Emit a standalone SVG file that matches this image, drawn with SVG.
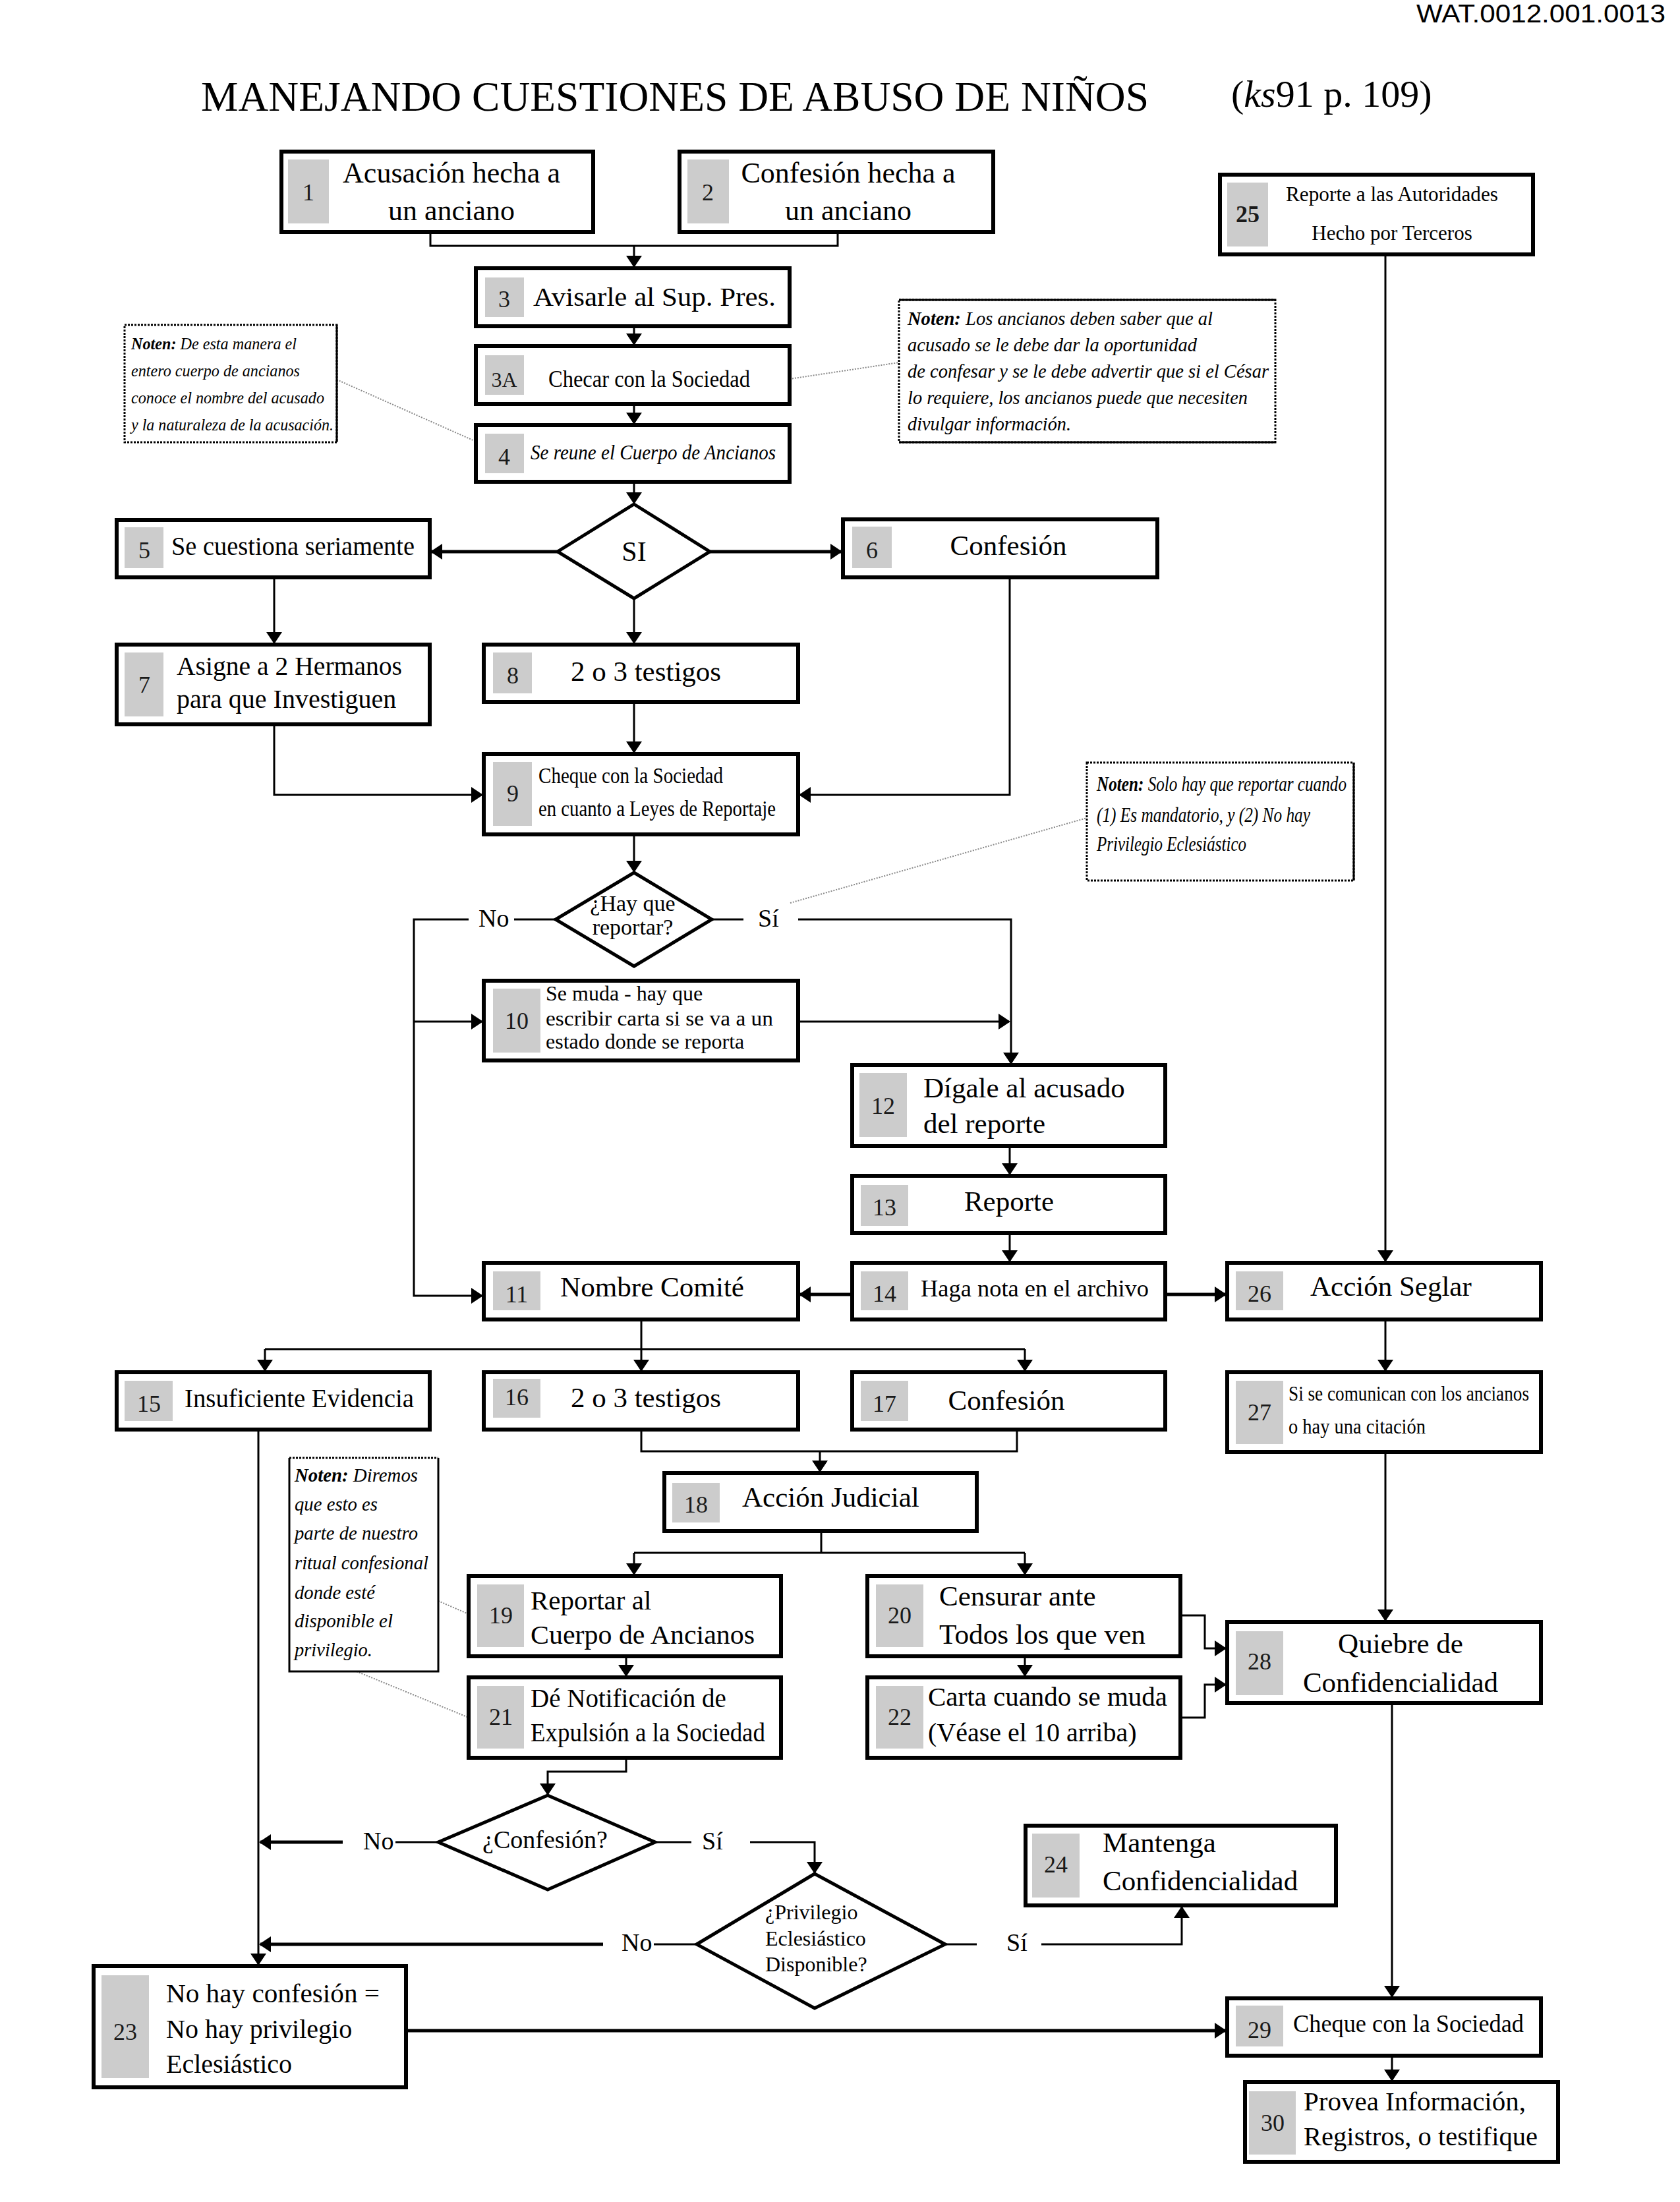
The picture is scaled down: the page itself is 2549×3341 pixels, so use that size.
<svg xmlns="http://www.w3.org/2000/svg" width="2549" height="3341" viewBox="0 0 2549 3341">
<style>
.box{fill:#fff;stroke:#000;stroke-width:6}
.g{fill:#cccccc}
.num{font-family:"Liberation Serif","Times New Roman",serif;font-size:36px;fill:#1a1a1a;text-anchor:middle}
.t{font-family:"Liberation Serif","Times New Roman",serif;fill:#000}
.m{text-anchor:middle}
.i{font-style:italic}
.nb{fill:#fff;stroke:#000;stroke-width:3;stroke-dasharray:3 2}
.sol{fill:none;stroke:#000;stroke-width:3}
.dot{fill:none;stroke:#888;stroke-width:2;stroke-dasharray:2 2}
.c{fill:none;stroke:#000;stroke-width:3}
.k{stroke-width:5}
.a{marker-end:url(#ah)}
.dm{fill:#fff;stroke:#000;stroke-width:5}
.lbl{font-family:"Liberation Serif","Times New Roman",serif;font-size:38px;fill:#000}
</style>
<defs>
<marker id="ah" viewBox="0 0 18 24" refX="16" refY="12" markerWidth="18" markerHeight="24" markerUnits="userSpaceOnUse" orient="auto"><path d="M0,0 L18,12 L0,24 z" fill="#000"/></marker>
</defs>
<rect x="0" y="0" width="2549" height="3341" fill="#fff"/>

<g id="header">
<text x="2527" y="34" text-anchor="end" font-family="Liberation Sans, Arial, sans-serif" font-size="38" textLength="378" lengthAdjust="spacingAndGlyphs">WAT.0012.001.0013</text>
<text class="t" x="305" y="168" font-size="63" textLength="1438" lengthAdjust="spacingAndGlyphs">MANEJANDO CUESTIONES DE ABUSO DE NIÑOS</text>
<text class="t" x="1868" y="162" font-size="58" fill="#222">(<tspan font-style="italic">ks</tspan>91 p. 109)</text>
</g>

<g id="connectors">
<path class="c" stroke-width="4" d="M653,352 V373 H1271 V352"/>
<path class="c a" d="M962,373 V404"/>
<path class="c a" d="M962,495 V522"/>
<path class="c a" d="M962,613 V642"/>
<path class="c a" d="M962,731 V763"/>
<path class="c k a" d="M846,837 H655"/>
<path class="c k a" d="M1077,837 H1276"/>
<path class="c a" d="M962,908 V975"/>
<path class="c a" d="M416,876 V975"/>
<path class="c a" d="M416,1099 V1206 H731"/>
<path class="c a" d="M962,1065 V1141"/>
<path class="c a" d="M1532,876 V1206 H1214"/>
<path class="c a" d="M962,1266 V1322"/>
<path class="c" d="M843,1395 H780"/>
<path class="c a" d="M711,1395 H628 V1966 H731"/>
<path class="c a" d="M628,1550 H731"/>
<path class="c" d="M1080,1395 H1128"/>
<path class="c a" d="M1211,1395 H1534 V1613"/>
<path class="c a" d="M1211,1550 H1531"/>
<path class="c a" d="M1532,1739 V1781"/>
<path class="c a" d="M1532,1871 V1913"/>
<path class="c k a" d="M1768,1964 H1859"/>
<path class="c k a" d="M1293,1964 H1214"/>
<path class="c a" d="M2102,386 V1913"/>
<path class="c" d="M973,2002 V2047 M402,2047 H1555"/>
<path class="c a" d="M402,2047 V2079"/>
<path class="c a" d="M973,2047 V2079"/>
<path class="c a" d="M1555,2047 V2079"/>
<path class="c a" d="M2102,2002 V2079"/>
<path class="c" d="M973,2169 V2202 H1543 V2169"/>
<path class="c a" d="M1244,2202 V2232"/>
<path class="c" d="M1246,2323 V2356 M962,2356 H1555"/>
<path class="c a" d="M962,2356 V2388"/>
<path class="c a" d="M1555,2356 V2388"/>
<path class="c a" d="M950,2513 V2542"/>
<path class="c a" d="M1555,2513 V2542"/>
<path class="c a" d="M1791,2451 H1828 V2501 H1859"/>
<path class="c a" d="M1791,2606 H1828 V2556 H1859"/>
<path class="c a" d="M2102,2203 V2458"/>
<path class="c a" d="M2112,2584 V3029"/>
<path class="c a" d="M950,2667 V2688 H831 V2722"/>
<path class="c" d="M665,2795 H600"/>
<path class="c k a" d="M520,2795 H395"/>
<path class="c a" d="M392,2169 V2980"/>
<path class="c" d="M994,2795 H1049"/>
<path class="c a" d="M1138,2795 H1236 V2841"/>
<path class="c" d="M1057,2950 H992"/>
<path class="c k a" d="M915,2950 H395"/>
<path class="c" d="M1434,2950 H1482"/>
<path class="c a" d="M1580,2950 H1793 V2894"/>
<path class="c k a" d="M616,3081 H1859"/>
<path class="c a" d="M2112,3119 V3156"/>
<path class="dot" d="M511,576 L720,669"/>
<path class="dot" d="M1198,575 L1364,550"/>
<path class="dot" d="M1199,1370 L1649,1241"/>
<path class="dot" d="M665,2429 L711,2449"/>
<path class="dot" d="M541,2536 L711,2606"/>
</g>

<g id="labels">
<text class="lbl" x="726" y="1406">No</text>
<text class="lbl" x="1150" y="1406">Sí</text>
<text class="lbl" x="551" y="2806">No</text>
<text class="lbl" x="1065" y="2806">Sí</text>
<text class="lbl" x="943" y="2960">No</text>
<text class="lbl" x="1527" y="2960">Sí</text>
</g>

<g id="n1"><rect class="box" x="427" y="230" width="473" height="122"/><rect class="g" x="437" y="242" width="62" height="97"/><text class="num" x="468" y="304">1</text><text class="t m" x="685" y="277" font-size="44">Acusación hecha a</text><text class="t m" x="685" y="334" font-size="44">un anciano</text></g>
<g id="n2"><rect class="box" x="1031" y="230" width="476" height="122"/><rect class="g" x="1043" y="242" width="63" height="97"/><text class="num" x="1074" y="304">2</text><text class="t m" x="1287" y="277" font-size="44">Confesión hecha a</text><text class="t m" x="1287" y="334" font-size="44">un anciano</text></g>
<g id="n25"><rect class="box" x="1851" y="265" width="475" height="121"/><rect class="g" x="1862" y="277" width="62" height="97"/><text class="num" x="1893" y="337" font-weight="bold">25</text><text class="t m" x="2112" y="305" font-size="31" textLength="322" lengthAdjust="spacingAndGlyphs">Reporte a las Autoridades</text><text class="t m" x="2112" y="364" font-size="31">Hecho por Terceros</text></g>
<g id="n3"><rect class="box" x="722" y="407" width="476" height="88"/><rect class="g" x="736" y="421" width="59" height="60"/><text class="num" x="765" y="466">3</text><text class="t" x="809" y="464" font-size="40" textLength="368" lengthAdjust="spacingAndGlyphs">Avisarle al Sup. Pres.</text></g>
<g id="n3A"><rect class="box" x="722" y="525" width="476" height="88"/><rect class="g" x="736" y="539" width="59" height="60"/><text class="num" x="765" y="587" style="font-size:32px">3A</text><text class="t" x="832" y="587" font-size="36" textLength="306" lengthAdjust="spacingAndGlyphs">Checar con la Sociedad</text></g>
<g id="n4"><rect class="box" x="722" y="645" width="476" height="86"/><rect class="g" x="736" y="658" width="59" height="60"/><text class="num" x="765" y="705">4</text><text class="t i" x="805" y="697" font-size="32" textLength="372" lengthAdjust="spacingAndGlyphs">Se reune el Cuerpo de Ancianos</text></g>

<g id="noteA">
<rect class="nb" x="189" y="493" width="322" height="178"/><path class="sol" d="M511,493 V671"/>
<text class="t i" x="199" y="530" font-size="25" textLength="251" lengthAdjust="spacingAndGlyphs"><tspan font-weight="bold">Noten:</tspan> De esta manera el</text>
<text class="t i" x="199" y="571" font-size="25" textLength="256" lengthAdjust="spacingAndGlyphs">entero cuerpo de ancianos</text>
<text class="t i" x="199" y="612" font-size="25" textLength="293" lengthAdjust="spacingAndGlyphs">conoce el nombre del acusado</text>
<text class="t i" x="199" y="653" font-size="25" textLength="307" lengthAdjust="spacingAndGlyphs">y la naturaleza de la acusación.</text>
</g>
<g id="noteB">
<rect class="nb" x="1364" y="455" width="571" height="216"/><path class="sol" stroke-width="4" d="M1364,455 H1935 M1364,671 H1935"/>
<text class="t i" x="1377" y="493" font-size="29" textLength="463" lengthAdjust="spacingAndGlyphs"><tspan font-weight="bold">Noten:</tspan> Los ancianos deben saber que al</text>
<text class="t i" x="1377" y="533" font-size="29" textLength="439" lengthAdjust="spacingAndGlyphs">acusado se le debe dar la oportunidad</text>
<text class="t i" x="1377" y="573" font-size="29" textLength="548" lengthAdjust="spacingAndGlyphs">de confesar y se le debe advertir que si el César</text>
<text class="t i" x="1377" y="613" font-size="29" textLength="516" lengthAdjust="spacingAndGlyphs">lo requiere, los ancianos puede que necesiten</text>
<text class="t i" x="1377" y="653" font-size="29" textLength="248" lengthAdjust="spacingAndGlyphs">divulgar información.</text>
</g>

<g id="d1"><polygon class="dm" points="962,765 1077,837 962,908 846,837"/><text class="t m" x="962" y="851" font-size="42">SI</text></g>
<g id="n5"><rect class="box" x="177" y="789" width="475" height="87"/><rect class="g" x="189" y="800" width="59" height="62"/><text class="num" x="219" y="847">5</text><text class="t" x="260" y="842" font-size="39" textLength="369" lengthAdjust="spacingAndGlyphs">Se cuestiona seriamente</text></g>
<g id="n6"><rect class="box" x="1279" y="788" width="477" height="88"/><rect class="g" x="1293" y="799" width="60" height="63"/><text class="num" x="1323" y="847">6</text><text class="t m" x="1530" y="842" font-size="43">Confesión</text></g>
<g id="n7"><rect class="box" x="177" y="978" width="475" height="121"/><rect class="g" x="189" y="990" width="59" height="97"/><text class="num" x="219" y="1051">7</text><text class="t" x="268" y="1024" font-size="40" textLength="342" lengthAdjust="spacingAndGlyphs">Asigne a 2 Hermanos</text><text class="t" x="268" y="1074" font-size="40">para que Investiguen</text></g>
<g id="n8"><rect class="box" x="734" y="978" width="477" height="87"/><rect class="g" x="748" y="990" width="59" height="62"/><text class="num" x="778" y="1037">8</text><text class="t m" x="980" y="1033" font-size="43">2 o 3 testigos</text></g>
<g id="n9"><rect class="box" x="734" y="1144" width="477" height="122"/><rect class="g" x="748" y="1156" width="59" height="97"/><text class="num" x="778" y="1216">9</text><text class="t" x="817" y="1188" font-size="34" textLength="280" lengthAdjust="spacingAndGlyphs">Cheque con la Sociedad</text><text class="t" x="817" y="1238" font-size="34" textLength="360" lengthAdjust="spacingAndGlyphs">en cuanto a Leyes de Reportaje</text></g>

<g id="d2"><polygon class="dm" points="962,1324 1080,1395 962,1466 843,1395"/><text class="t m" x="960" y="1382" font-size="34">¿Hay que</text><text class="t m" x="960" y="1418" font-size="34">reportar?</text></g>
<g id="noteC">
<rect class="nb" x="1649" y="1157" width="405" height="179"/><path class="sol" d="M2054,1157 V1336"/>
<text class="t i" x="1664" y="1200" font-size="32" textLength="379" lengthAdjust="spacingAndGlyphs"><tspan font-weight="bold">Noten:</tspan> Solo hay que reportar cuando</text>
<text class="t i" x="1664" y="1247" font-size="32" textLength="324" lengthAdjust="spacingAndGlyphs">(1) Es mandatorio, y (2) No hay</text>
<text class="t i" x="1664" y="1291" font-size="32" textLength="227" lengthAdjust="spacingAndGlyphs">Privilegio Eclesiástico</text>
</g>
<g id="n10"><rect class="box" x="734" y="1488" width="477" height="121"/><rect class="g" x="748" y="1500" width="72" height="97"/><text class="num" x="784" y="1561">10</text><text class="t" x="828" y="1518" font-size="32">Se muda - hay que</text><text class="t" x="828" y="1556" font-size="32" textLength="345" lengthAdjust="spacingAndGlyphs">escribir carta si se va a un</text><text class="t" x="828" y="1591" font-size="32">estado donde se reporta</text></g>
<g id="n12"><rect class="box" x="1293" y="1616" width="475" height="123"/><rect class="g" x="1304" y="1628" width="72" height="97"/><text class="num" x="1340" y="1690">12</text><text class="t" x="1401" y="1665" font-size="43">Dígale al acusado</text><text class="t" x="1401" y="1719" font-size="43">del reporte</text></g>
<g id="n13"><rect class="box" x="1293" y="1784" width="475" height="87"/><rect class="g" x="1306" y="1798" width="72" height="62"/><text class="num" x="1342" y="1844">13</text><text class="t m" x="1531" y="1837" font-size="43">Reporte</text></g>
<g id="n14"><rect class="box" x="1293" y="1916" width="475" height="86"/><rect class="g" x="1306" y="1929" width="72" height="59"/><text class="num" x="1342" y="1975">14</text><text class="t" x="1397" y="1967" font-size="36" textLength="346" lengthAdjust="spacingAndGlyphs">Haga nota en el archivo</text></g>
<g id="n11"><rect class="box" x="734" y="1916" width="477" height="86"/><rect class="g" x="748" y="1929" width="72" height="59"/><text class="num" x="784" y="1976">11</text><text class="t" x="850" y="1967" font-size="43" textLength="279" lengthAdjust="spacingAndGlyphs">Nombre Comité</text></g>
<g id="n26"><rect class="box" x="1862" y="1916" width="476" height="86"/><rect class="g" x="1875" y="1929" width="72" height="59"/><text class="num" x="1911" y="1975">26</text><text class="t" x="1988" y="1966" font-size="43">Acción Seglar</text></g>
<g id="n15"><rect class="box" x="177" y="2082" width="475" height="87"/><rect class="g" x="189" y="2095" width="73" height="61"/><text class="num" x="226" y="2142">15</text><text class="t" x="280" y="2135" font-size="39" textLength="348" lengthAdjust="spacingAndGlyphs">Insuficiente Evidencia</text></g>
<g id="n16"><rect class="box" x="734" y="2082" width="477" height="87"/><rect class="g" x="748" y="2092" width="72" height="59"/><text class="num" x="784" y="2132">16</text><text class="t m" x="980" y="2135" font-size="43">2 o 3 testigos</text></g>
<g id="n17"><rect class="box" x="1293" y="2082" width="475" height="87"/><rect class="g" x="1306" y="2095" width="72" height="61"/><text class="num" x="1342" y="2142">17</text><text class="t m" x="1527" y="2139" font-size="43">Confesión</text></g>
<g id="n27"><rect class="box" x="1862" y="2082" width="476" height="121"/><rect class="g" x="1875" y="2095" width="72" height="96"/><text class="num" x="1911" y="2155">27</text><text class="t" x="1955" y="2125" font-size="31" textLength="365" lengthAdjust="spacingAndGlyphs">Si se comunican con los ancianos</text><text class="t" x="1955" y="2175" font-size="31" textLength="208" lengthAdjust="spacingAndGlyphs">o hay una citación</text></g>
<g id="noteD">
<path class="sol" d="M439,2212 V2536 H665 V2212"/><path class="nb" fill="none" d="M439,2212 H665"/>
<text class="t i" x="447" y="2248" font-size="30" textLength="187" lengthAdjust="spacingAndGlyphs"><tspan font-weight="bold">Noten:</tspan> Diremos</text>
<text class="t i" x="447" y="2292" font-size="30" textLength="126" lengthAdjust="spacingAndGlyphs">que esto es</text>
<text class="t i" x="447" y="2336" font-size="30" textLength="187" lengthAdjust="spacingAndGlyphs">parte de nuestro</text>
<text class="t i" x="447" y="2381" font-size="30" textLength="203" lengthAdjust="spacingAndGlyphs">ritual confesional</text>
<text class="t i" x="447" y="2426" font-size="30" textLength="122" lengthAdjust="spacingAndGlyphs">donde esté</text>
<text class="t i" x="447" y="2469" font-size="30" textLength="149" lengthAdjust="spacingAndGlyphs">disponible el</text>
<text class="t i" x="447" y="2513" font-size="30" textLength="118" lengthAdjust="spacingAndGlyphs">privilegio.</text>
</g>
<g id="n18"><rect class="box" x="1008" y="2235" width="474" height="88"/><rect class="g" x="1020" y="2250" width="72" height="60"/><text class="num" x="1056" y="2295">18</text><text class="t" x="1126" y="2286" font-size="43">Acción Judicial</text></g>
<g id="n19"><rect class="box" x="711" y="2391" width="474" height="122"/><rect class="g" x="724" y="2404" width="71" height="95"/><text class="num" x="760" y="2463">19</text><text class="t" x="805" y="2442" font-size="41">Reportar al</text><text class="t" x="805" y="2494" font-size="41" textLength="340" lengthAdjust="spacingAndGlyphs">Cuerpo de Ancianos</text></g>
<g id="n20"><rect class="box" x="1316" y="2391" width="475" height="122"/><rect class="g" x="1329" y="2404" width="72" height="95"/><text class="num" x="1365" y="2463">20</text><text class="t" x="1425" y="2436" font-size="43">Censurar ante</text><text class="t" x="1425" y="2494" font-size="43" textLength="313" lengthAdjust="spacingAndGlyphs">Todos los que ven</text></g>
<g id="n28"><rect class="box" x="1862" y="2461" width="476" height="123"/><rect class="g" x="1875" y="2475" width="72" height="97"/><text class="num" x="1911" y="2533">28</text><text class="t m" x="2125" y="2508" font-size="43">Quiebre de</text><text class="t m" x="2125" y="2567" font-size="43">Confidencialidad</text></g>
<g id="n21"><rect class="box" x="711" y="2545" width="474" height="122"/><rect class="g" x="724" y="2558" width="71" height="95"/><text class="num" x="760" y="2617">21</text><text class="t" x="805" y="2590" font-size="39">Dé Notificación de</text><text class="t" x="805" y="2642" font-size="39" textLength="356" lengthAdjust="spacingAndGlyphs">Expulsión a la Sociedad</text></g>
<g id="n22"><rect class="box" x="1316" y="2545" width="475" height="122"/><rect class="g" x="1329" y="2558" width="72" height="95"/><text class="num" x="1365" y="2617">22</text><text class="t" x="1408" y="2588" font-size="40" textLength="363" lengthAdjust="spacingAndGlyphs">Carta cuando se muda</text><text class="t" x="1408" y="2642" font-size="40">(Véase el 10 arriba)</text></g>
<g id="d3"><polygon class="dm" points="831,2724 994,2795 831,2867 665,2795"/><text class="t m" x="827" y="2804" font-size="38">¿Confesión?</text></g>
<g id="d4"><polygon class="dm" points="1236,2843 1434,2950 1236,3047 1057,2950"/><text class="t" x="1161" y="2912" font-size="32">¿Privilegio</text><text class="t" x="1161" y="2952" font-size="32">Eclesiástico</text><text class="t" x="1161" y="2991" font-size="32">Disponible?</text></g>
<g id="n24"><rect class="box" x="1556" y="2770" width="471" height="121"/><rect class="g" x="1566" y="2782" width="72" height="97"/><text class="num" x="1602" y="2841">24</text><text class="t" x="1673" y="2810" font-size="43">Mantenga</text><text class="t" x="1673" y="2868" font-size="43">Confidencialidad</text></g>
<g id="n23"><rect class="box" x="142" y="2983" width="474" height="184"/><rect class="g" x="154" y="2997" width="72" height="156"/><text class="num" x="190" y="3095">23</text><text class="t" x="252" y="3038" font-size="40" textLength="324" lengthAdjust="spacingAndGlyphs">No hay confesión =</text><text class="t" x="252" y="3092" font-size="40">No hay privilegio</text><text class="t" x="252" y="3145" font-size="40">Eclesiástico</text></g>
<g id="n29"><rect class="box" x="1862" y="3032" width="476" height="87"/><rect class="g" x="1875" y="3043" width="72" height="62"/><text class="num" x="1911" y="3092">29</text><text class="t" x="1962" y="3083" font-size="38" textLength="350" lengthAdjust="spacingAndGlyphs">Cheque con la Sociedad</text></g>
<g id="n30"><rect class="box" x="1889" y="3159" width="475" height="121"/><rect class="g" x="1895" y="3173" width="71" height="96"/><text class="num" x="1931" y="3233">30</text><text class="t" x="1978" y="3202" font-size="41">Provea Información,</text><text class="t" x="1978" y="3255" font-size="41" textLength="355" lengthAdjust="spacingAndGlyphs">Registros, o testifique</text></g>
</svg>
